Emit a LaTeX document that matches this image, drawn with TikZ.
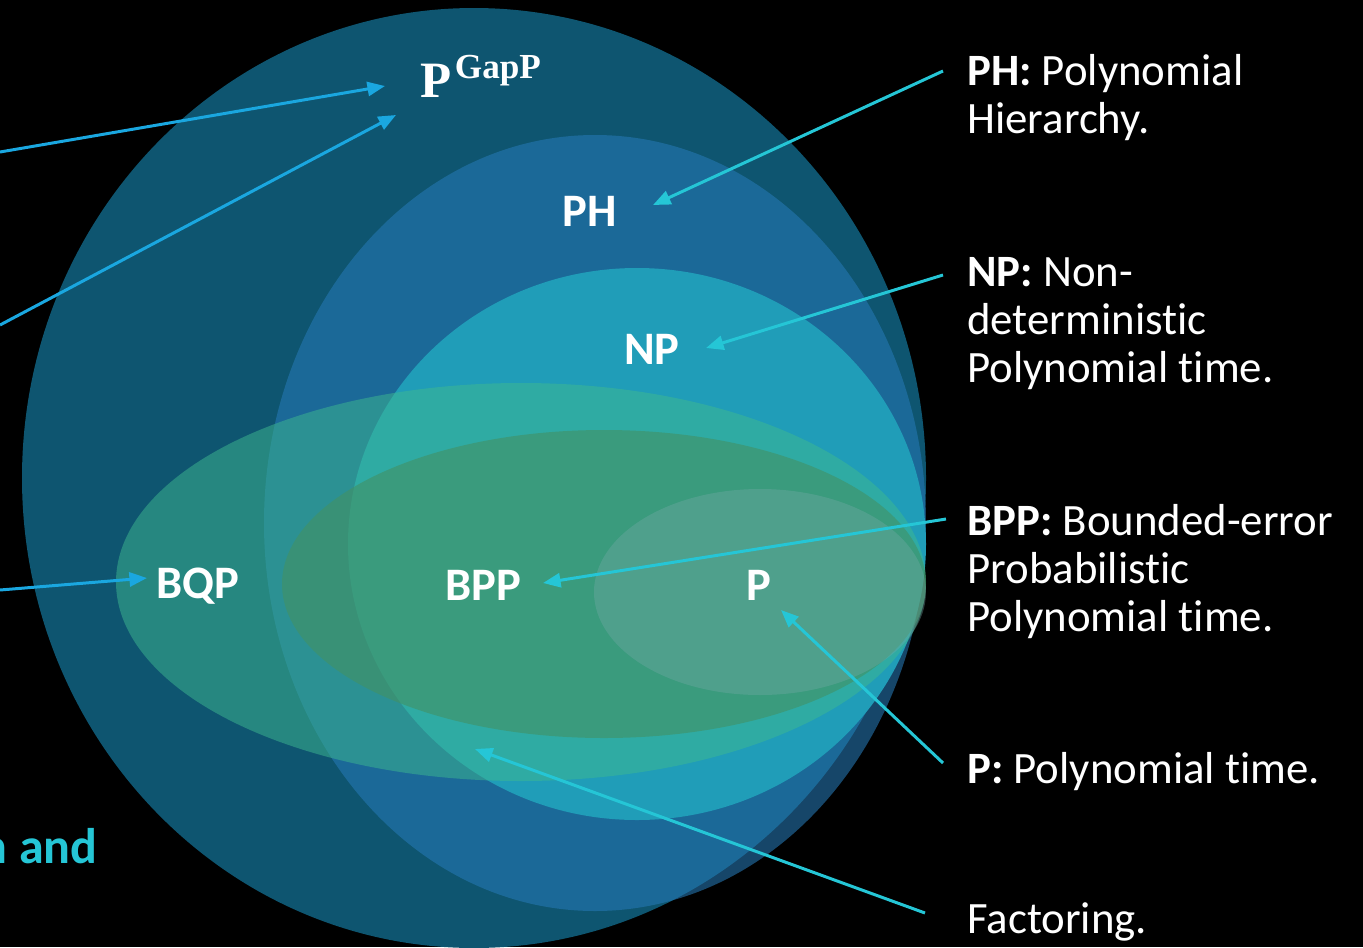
\documentclass[tikz,border=0pt]{standalone}
\usepackage{fontspec}
\setmainfont{Carlito}[Ligatures=NoCommon]
\newfontfamily\gapfont{Liberation Serif}
\usetikzlibrary{arrows.meta,positioning}
\definecolor{outerblue}{RGB}{14,85,112}
\definecolor{phblue}{RGB}{38,121,181}
\definecolor{npblue}{RGB}{32,157,184}
\definecolor{bqpgreen}{RGB}{62,185,144}
\definecolor{bppgreen}{RGB}{66,145,100}
\definecolor{pgreen}{RGB}{120,170,170}
\definecolor{linkblue}{RGB}{26,167,224}
\definecolor{linkcyan}{RGB}{37,198,214}

\begin{document}
\begin{tikzpicture}[
		x=0.02cm, y=-0.02cm,
		cls/.style={font=\fontsize{26.5}{30}\selectfont\bfseries, text=white, inner sep=0pt, anchor=base},
		desc/.style={font=\fontsize{25.5}{27.2}\selectfont, text=white, align=left, inner sep=0pt, anchor=base west},
		callout/.style={color=linkcyan, line width=1.7pt},
		leftcall/.style={color=linkblue, line width=1.7pt},
		->,>={Triangle[length=10pt,width=8pt]}
		]

		% --- fond ---
		\fill[black] (0,0) rectangle (1363,947);
		\useasboundingbox (0,0) rectangle (1363,947);

		% --- ellipses ---
		\fill[outerblue] (474,478) ellipse [x radius=452, y radius=470];
		\fill[phblue, fill opacity=0.58] (595,523) ellipse [x radius=331, y radius=388];
		\fill[npblue] (637,544) ellipse [x radius=289, y radius=276];
		\fill[bqpgreen, fill opacity=0.5] (521,582) ellipse [x radius=405, y radius=199];
		\fill[bppgreen, fill opacity=0.6] (604,584) ellipse [x radius=322, y radius=154];
		\fill[pgreen, fill opacity=0.35] (760,592) ellipse [x radius=166, y radius=103];

		% --- classes ---
		\node[anchor=base west, inner sep=0pt, text=white] (gapp) at (420,97)
			{\gapfont\bfseries\fontsize{29}{29}\selectfont P\hspace{2pt}\raisebox{10.5pt}{\fontsize{20}{20}\selectfont GapP}};
		\node[cls] (ph) at (590,226) {PH};
		\node[cls] (np) at (652,364) {NP};
		\node[cls] (bqp) at (198,598) {BQP};
		\node[cls] (bpp) at (483,600) {BPP};
		\node[cls] (p) at (759,600) {P};

		% --- definitions (ancre = derniere ligne) ---
		\node[desc] (phdef) at (967,133) {\textbf{PH:} Polynomial\\Hierarchy.};
		\node[desc] (npdef) at (967,382) {\textbf{NP:} Non-\\deterministic\\Polynomial time.};
		\node[desc] (bppdef) at (967,631) {\textbf{BPP:} Bounded-error\\Probabilistic\\Polynomial time.};
		\node[desc] (pdef) at (967,783) {\textbf{P:} Polynomial time.};
		\node[desc] (factdef) at (967,933) {Factoring.};
		\node[anchor=base east, inner sep=0pt, text=linkcyan, font=\fontsize{28.5}{30}\selectfont\bfseries] (note) at (98,863) {n and};

		% --- fleches ---
		\coordinate (phs) at (943,71);    \coordinate (pht) at (653,205);
		\coordinate (nps) at (943,275);   \coordinate (npt) at (706,348);
		\coordinate (bpps) at (946,519);  \coordinate (bppt) at (543,583);
		\coordinate (ps) at (943,763);    \coordinate (pt) at (781,610);
		\coordinate (facs) at (925,913);  \coordinate (fact) at (475,749);
		\coordinate (la) at (0,152);      \coordinate (lat) at (385,86);
		\coordinate (lb) at (0,325);      \coordinate (lbt) at (396,115);
		\coordinate (lc) at (0,590);      \coordinate (lct) at (147,578);

		\draw[callout] (phs) -- (pht);
		\draw[callout] (nps) -- (npt);
		\draw[callout] (bpps) -- (bppt);
		\draw[callout] (ps) -- (pt);
		\draw[callout] (facs) -- (fact);
		\draw[leftcall] (la) -- (lat);
		\draw[leftcall] (lb) -- (lbt);
		\draw[leftcall] (lc) -- (lct);

	\end{tikzpicture}
\end{document}
